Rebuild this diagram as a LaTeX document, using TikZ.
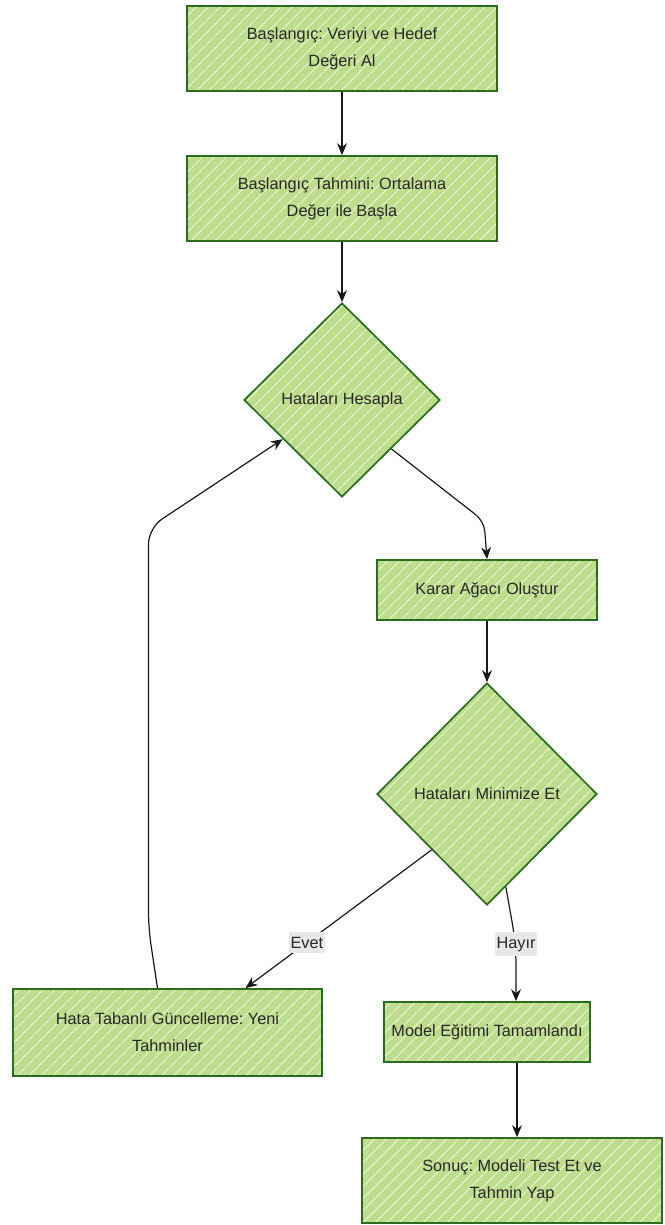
\documentclass[tikz,border=0pt]{standalone}
\usepackage{fontspec}
\setmainfont{Liberation Sans}
\usetikzlibrary{shapes.geometric,patterns.meta,arrows.meta,calc}
\definecolor{leaf}{RGB}{190,221,140}
\definecolor{hatch}{RGB}{232,244,212}
\definecolor{edge}{RGB}{44,108,30}
\definecolor{ink}{RGB}{40,40,40}
\definecolor{tag}{RGB}{232,232,232}
\tikzset{
  hatched/.style={draw=edge, line width=1.7pt, text=ink,
    preaction={fill=leaf},
    preaction={pattern={Lines[angle=45,distance=8.5pt,line width=0.9pt]}, pattern color=hatch}},
  stepbox/.style={hatched, rectangle, inner sep=0pt, align=center,
    font=\fontsize{16.3}{27}\selectfont\frenchspacing},
  choice/.style={hatched, diamond, inner sep=0pt, aspect=1,
    font=\fontsize{16.3}{27}\selectfont},
  flow/.style={draw=black!90, line width=1.2pt, -{Stealth[length=12pt,width=10pt]}},
  tagbox/.style={fill=tag, inner xsep=2pt, inner ysep=5pt, text=ink,
    font=\fontsize{16.3}{18}\selectfont}
}
\begin{document}
\begin{tikzpicture}[x=1pt,y=-1pt]
\useasboundingbox (0,0) rectangle (664,1225);

% process steps
\node[stepbox, minimum width=310pt, minimum height=85pt] (start) at (342,48.5)
  {Başlangıç: Veriyi ve Hedef\\Değeri Al};
\node[stepbox, minimum width=310pt, minimum height=85pt] (init) at (342,198.5)
  {Başlangıç Tahmini: Ortalama\\Değer ile Başla};
\node[choice, minimum width=196pt, minimum height=194pt] (err) at (342,400)
  {Hataları Hesapla};
\node[stepbox, minimum width=220pt, minimum height=60pt] (tree) at (487,590)
  {Karar Ağacı Oluştur};
\node[choice, minimum width=220pt, minimum height=222pt] (mini) at (487,794)
  {Hataları Minimize Et};
\node[stepbox, minimum width=309pt, minimum height=87pt] (upd) at (167.5,1032.5)
  {Hata Tabanlı Güncelleme: Yeni\\Tahminler};
\node[stepbox, minimum width=206pt, minimum height=60pt] (done) at (487,1032)
  {Model Eğitimi Tamamlandı};
\node[stepbox, minimum width=300pt, minimum height=85pt] (res) at (512,1180.5)
  {Sonuç: Modeli Test Et ve\\Tahmin Yap};

% connectors
\draw[flow] (start) -- (init);
\draw[flow] (init) -- (err);
\draw[flow, rounded corners=10pt] (err.south east) -- ([xshift=-3pt,yshift=38pt]tree.north) -- (tree.north);
\draw[flow] (tree) -- (mini);
\draw[flow] (mini.south west) -- node[tagbox, pos=0.67] (yes) {Evet} ([xshift=78pt]upd.north);
\coordinate (noA) at ($(mini.south)!0.17!(mini.east)$);
\coordinate (noB) at ([xshift=29pt,yshift=57pt]done.north);
\draw[flow, rounded corners=20pt] (noA) -- (noB) -- ([xshift=29pt]done.north);
\node[tagbox] (no) at (noB) {Hayır};
\draw[flow] ([xshift=30pt]done.south) -- ([xshift=5pt]res.north);
\coordinate (loopT) at ($(err.west)!0.4!(err.south)$);
\draw[flow, rounded corners=16pt] ([xshift=-10pt]upd.north) -- ([xshift=-19pt,yshift=60pt]upd.north)
  -- ([xshift=-19pt]upd.north |- 0,528) -- (loopT);
\end{tikzpicture}
\end{document}
